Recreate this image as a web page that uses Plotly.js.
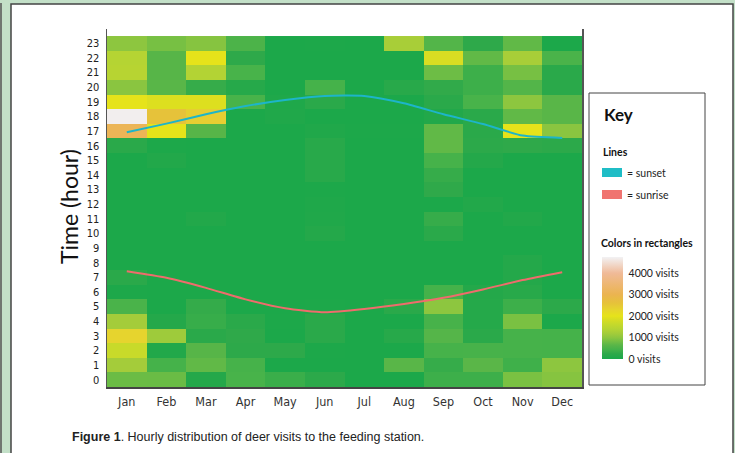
<!DOCTYPE html>
<html>
<head>
<meta charset="utf-8">
<script src="https://cdn.plot.ly/plotly-3.0.1.min.js"></script>
<style>
html,body{margin:0;padding:0;background:#c3e0c8;}
#chart{width:735px;height:453px;}
</style>
</head>
<body>
<div id="chart"></div>
<script>
// ---- data ----
const months = ['Jan','Feb','Mar','Apr','May','Jun','Jul','Aug','Sep','Oct','Nov','Dec'];
const hours = [0,1,2,3,4,5,6,7,8,9,10,11,12,13,14,15,16,17,18,19,20,21,22,23];

// visits per hour (rows) by month (Jan..Dec)
const h00 = [770, 760, 120, 480, 350, 220, 20, 20, 380, 380, 870, 950];
const h01 = [1200, 450, 700, 460, 30, 30, 20, 640, 320, 650, 400, 1000];
const h02 = [1650, 100, 620, 240, 240, 40, 20, 20, 460, 470, 460, 450];
const h03 = [2300, 1150, 200, 260, 30, 200, 20, 160, 600, 200, 460, 450];
const h04 = [1200, 120, 330, 200, 40, 200, 20, 20, 470, 140, 870, 30];
const h05 = [500, 30, 300, 20, 20, 40, 20, 200, 1000, 140, 380, 220];
const h06 = [40, 20, 20, 20, 20, 20, 20, 20, 450, 120, 180, 20];
const h07 = [200, 20, 20, 20, 20, 20, 20, 20, 20, 20, 120, 20];
const h08 = [20, 20, 20, 20, 20, 20, 20, 20, 20, 20, 120, 20];
const h09 = [20, 20, 20, 20, 20, 20, 20, 20, 20, 20, 20, 20];
const h10 = [20, 20, 20, 20, 20, 120, 20, 20, 200, 20, 20, 20];
const h11 = [20, 20, 100, 20, 20, 80, 20, 20, 320, 20, 100, 20];
const h12 = [20, 20, 20, 20, 20, 60, 20, 20, 20, 100, 20, 20];
const h13 = [20, 20, 20, 20, 20, 40, 20, 20, 260, 20, 20, 20];
const h14 = [20, 20, 20, 20, 20, 180, 20, 20, 320, 30, 20, 20];
const h15 = [20, 100, 20, 20, 20, 180, 20, 20, 460, 120, 20, 20];
const h16 = [200, 40, 20, 20, 20, 180, 20, 20, 700, 220, 260, 220];
const h17 = [3100, 2000, 620, 20, 20, 80, 40, 40, 700, 200, 2000, 980];
const h18 = [4700, 2600, 2400, 30, 80, 30, 20, 20, 100, 200, 700, 640];
const h19 = [2000, 1900, 1900, 480, 60, 200, 20, 30, 200, 480, 1000, 640];
const h20 = [980, 640, 320, 150, 20, 450, 20, 180, 280, 380, 580, 200];
const h21 = [1420, 620, 1380, 480, 20, 20, 20, 20, 780, 380, 850, 200];
const h22 = [1400, 620, 2000, 250, 20, 30, 20, 20, 1850, 700, 1250, 500];
const h23 = [1000, 850, 950, 520, 30, 40, 30, 1250, 580, 250, 700, 30];

// sunset / sunrise (hour of day)
const sunset  = [16.92, 17.51, 18.15, 18.71, 19.12, 19.40, 19.40, 18.90, 18.15, 17.48, 16.69, 16.53];
const sunrise = [7.42, 6.97, 6.28, 5.49, 4.88, 4.61, 4.83, 5.17, 5.60, 6.17, 6.81, 7.35];

// colour key
const keyTickVals = [0, 1000, 2000, 3000, 4000];
const keyTickText = ['0 visits', '1000 visits', '2000 visits', '3000 visits', '4000 visits'];

// ---- helpers for pixel placement ----
const W = 735, H = 453;
const L = 107, R = 582, T = 29, B = 387;
const px = x => (x - L) / (R - L);
const py = y => (B - y) / (B - T);

const z = [h00,h01,h02,h03,h04,h05,h06,h07,h08,h09,h10,h11,h12,h13,h14,h15,h16,h17,h18,h19,h20,h21,h22,h23];
const CMAX = 4750;
const stop = (v, c) => [v / CMAX, c];
const colorscale = [
  stop(0,    'rgb(26,168,74)'),
  stop(250,  'rgb(46,169,74)'),
  stop(450,  'rgb(69,178,74)'),
  stop(650,  'rgb(90,182,72)'),
  stop(850,  'rgb(119,192,67)'),
  stop(1000, 'rgb(141,198,63)'),
  stop(1200, 'rgb(164,204,58)'),
  stop(1400, 'rgb(181,212,51)'),
  stop(1650, 'rgb(200,218,42)'),
  stop(1850, 'rgb(217,221,34)'),
  stop(2000, 'rgb(230,227,26)'),
  stop(2300, 'rgb(230,212,46)'),
  stop(2600, 'rgb(230,194,58)'),
  stop(3000, 'rgb(235,180,80)'),
  stop(4000, 'rgb(240,186,152)'),
  [1, 'rgb(242,242,244)']
];

const tickFont = 'Liberation Sans Narrow, DejaVu Sans Condensed, sans-serif';
const keyFont = 'Lato, Open Sans, sans-serif';

const traces = [
  {
    type: 'heatmap',
    x: months,
    y: hours,
    z: z,
    zmin: 0,
    zmax: CMAX,
    colorscale: colorscale,
    hoverinfo: 'skip',
    colorbar: {
      x: px(602), xanchor: 'left', xref: 'paper',
      y: py(359), yanchor: 'bottom', yref: 'paper',
      thickness: 21, thicknessmode: 'pixels',
      len: 102, lenmode: 'pixels',
      xpad: 0, ypad: 0,
      outlinewidth: 0,
      tickvals: keyTickVals,
      ticktext: keyTickText,
      ticks: 'outside', ticklen: 4, tickcolor: 'rgba(255,255,255,0)',
      tickfont: {family: keyFont, size: 10.5, color: '#222'}
    }
  },
  {
    type: 'scatter', mode: 'lines', x: months, y: sunset, name: 'sunset',
    line: {color: '#1db5c9', width: 2, shape: 'spline', smoothing: 0.6}, hoverinfo: 'skip'
  },
  {
    type: 'scatter', mode: 'lines', x: months, y: sunrise, name: 'sunrise',
    line: {color: '#ef6c6c', width: 2, shape: 'spline', smoothing: 0.6}, hoverinfo: 'skip'
  }
];

const layout = {
  width: W, height: H,
  margin: {l: L, r: W - R, t: T, b: H - B, pad: 0},
  paper_bgcolor: '#c3e0c8',
  plot_bgcolor: '#ffffff',
  showlegend: false,
  xaxis: {
    type: 'category', range: [-0.5, 11.5], fixedrange: true,
    showline: true, linecolor: '#444', linewidth: 2, mirror: false,
    showgrid: false, zeroline: false,
    ticks: 'outside', ticklen: 2, tickcolor: 'rgba(0,0,0,0)',
    tickfont: {family: tickFont, size: 12.5, color: '#333', weight: 'normal'}
  },
  yaxis: {
    range: [-0.5, 23.98], fixedrange: true,
    tickvals: hours, ticktext: hours.map(String),
    showline: true, linecolor: '#555', linewidth: 1.5, mirror: true,
    showgrid: false, zeroline: false,
    ticks: 'outside', ticklen: 4, tickcolor: 'rgba(0,0,0,0)',
    tickfont: {family: tickFont, size: 11, color: '#222', weight: 'normal'}
  },
  shapes: [
    // outer page line
    {type: 'line', xref: 'paper', yref: 'paper', x0: px(1), x1: px(1), y0: py(3), y1: py(460), line: {color: '#555', width: 1.5}, layer: 'below'},
    // white panel
    {type: 'rect', xref: 'paper', yref: 'paper', x0: px(11), x1: px(733), y0: py(4), y1: py(470), fillcolor: '#ffffff', line: {color: '#444', width: 1.5}, layer: 'below'},
    // key box
    {type: 'rect', xref: 'paper', yref: 'paper', x0: px(589), x1: px(705), y0: py(93), y1: py(385), fillcolor: 'rgba(0,0,0,0)', line: {color: '#444', width: 1}},
    // line swatches
    {type: 'rect', xref: 'paper', yref: 'paper', x0: px(602), x1: px(622), y0: py(168), y1: py(177), fillcolor: '#1fbdc6', line: {width: 0}},
    {type: 'rect', xref: 'paper', yref: 'paper', x0: px(602), x1: px(622), y0: py(190), y1: py(199), fillcolor: '#f07470', line: {width: 0}}
  ],
  annotations: [
    {xref: 'paper', yref: 'paper', x: px(69), y: py(207), text: 'Time (hour)', textangle: -90, showarrow: false,
     xanchor: 'center', yanchor: 'middle', font: {family: keyFont, size: 23, color: '#111'}},
    {xref: 'paper', yref: 'paper', x: px(602), y: py(114), text: '<b>Key</b>', showarrow: false,
     xanchor: 'left', yanchor: 'middle', font: {family: keyFont, size: 17, color: '#111'}},
    {xref: 'paper', yref: 'paper', x: px(601), y: py(152), text: '<b>Lines</b>', showarrow: false,
     xanchor: 'left', yanchor: 'middle', font: {family: keyFont, size: 10.5, color: '#111'}},
    {xref: 'paper', yref: 'paper', x: px(625), y: py(172.5), text: '= sunset', showarrow: false,
     xanchor: 'left', yanchor: 'middle', font: {family: keyFont, size: 10.5, color: '#222'}},
    {xref: 'paper', yref: 'paper', x: px(625), y: py(194.5), text: '= sunrise', showarrow: false,
     xanchor: 'left', yanchor: 'middle', font: {family: keyFont, size: 10.5, color: '#222'}},
    {xref: 'paper', yref: 'paper', x: px(599), y: py(243), text: '<b>Colors in rectangles</b>', showarrow: false,
     xanchor: 'left', yanchor: 'middle', font: {family: keyFont, size: 10.5, color: '#111'}},
    {xref: 'paper', yref: 'paper', x: px(70), y: py(437), text: '<b>Figure 1</b>. Hourly distribution of deer visits to the feeding station.', showarrow: false,
     xanchor: 'left', yanchor: 'middle', font: {family: 'Liberation Sans, Arial, sans-serif', size: 12.5, color: '#222'}}
  ]
};

Plotly.newPlot('chart', traces, layout, {displayModeBar: false, staticPlot: true});
</script>
</body>
</html>
